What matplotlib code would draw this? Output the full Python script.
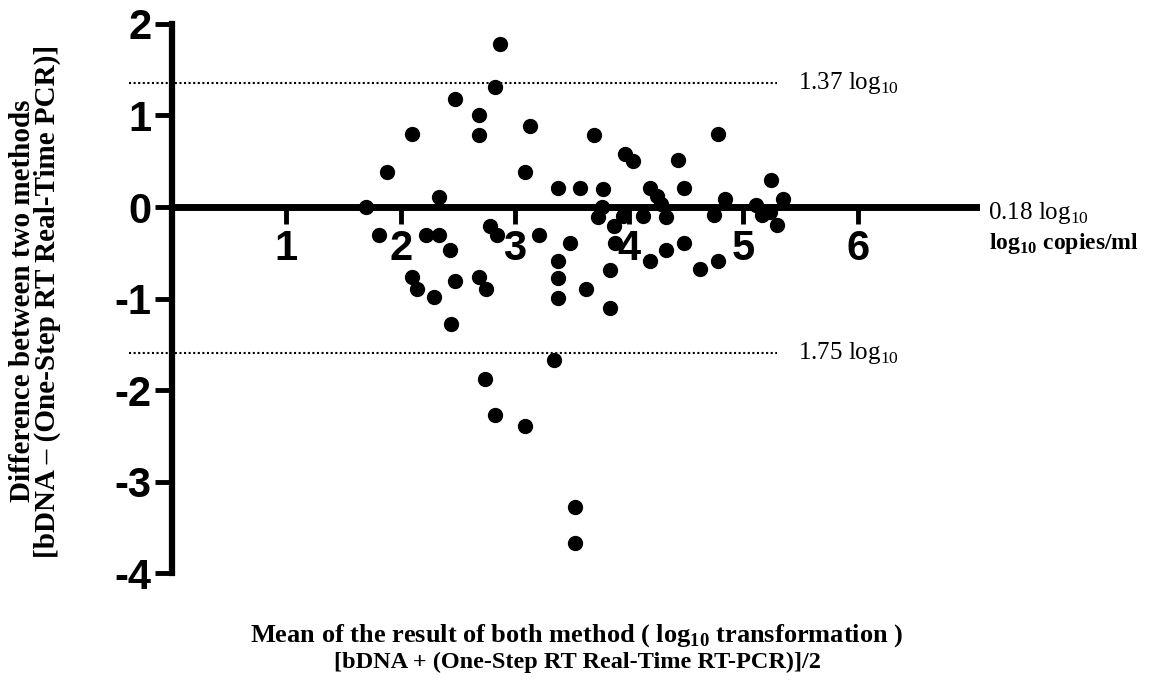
import numpy as np
import matplotlib.pyplot as plt

# Bland-Altman: bDNA vs One-Step RT Real-Time PCR
mean_log = [1.70, 1.88, 1.81, 2.10, 2.10, 2.14, 2.22, 2.34, 2.34, 2.29,
            2.43, 2.48, 2.44, 2.48, 2.69, 2.69, 2.69, 2.75, 2.78, 2.84,
            2.83, 2.87, 3.09, 3.13, 3.21, 2.74, 2.83, 3.09, 3.34, 3.53,
            3.53, 3.38, 3.57, 3.77, 3.69, 3.48, 3.38, 3.38, 3.38, 3.62,
            3.73, 3.76, 3.87, 3.88, 3.83, 3.83, 3.95, 3.96, 4.03, 4.12,
            4.18, 4.24, 4.28, 4.32, 4.18, 4.32, 4.43, 4.48, 4.48, 4.62,
            4.74, 4.78, 4.78, 4.84, 5.11, 5.16, 5.23, 5.24, 5.29, 5.35]
diff_log = [0.00, 0.38, -0.31, 0.80, -0.76, -0.90, -0.31, -0.31, 0.11, -0.98,
            -0.47, -0.81, -1.28, 1.18, 1.00, 0.79, -0.76, -0.90, -0.21, -0.31,
            1.31, 1.78, 0.38, 0.89, -0.31, -1.88, -2.27, -2.39, -1.67, -3.28,
            -3.67, 0.21, 0.21, 0.20, 0.79, -0.39, -0.59, -0.78, -0.99, -0.90,
            -0.11, 0.00, -0.21, -0.39, -0.69, -1.10, -0.10, 0.58, 0.50, -0.10,
            0.21, 0.12, 0.03, -0.11, -0.59, -0.47, 0.51, 0.21, -0.39, -0.68,
            -0.09, -0.59, 0.80, 0.09, 0.02, -0.09, -0.05, 0.30, -0.20, 0.09]

upper_limit = 1.36
lower_limit = -1.60
limit_labels = ["1.37 log$_{10}$", "1.75 log$_{10}$"]
mean_label = "0.18 log$_{10}$"
x_ticks = [1, 2, 3, 4, 5, 6]
y_ticks = [-4, -3, -2, -1, 0, 1, 2]

plt.rcParams['axes.unicode_minus'] = False
plt.rcParams['mathtext.fontset'] = 'custom'
plt.rcParams['mathtext.rm'] = 'Liberation Serif'
plt.rcParams['mathtext.bf'] = 'Liberation Serif:bold'

fig = plt.figure(figsize=(11.61, 6.81), dpi=100)
ax = fig.add_axes([0.1088, 0.1518, 0.7334, 0.8197])

ax.plot(mean_log, diff_log, 'o', color='black', markersize=10, zorder=5)

# limits of agreement
ax.plot([-0.38, 5.29], [upper_limit, upper_limit], color='black',
        lw=1.5, linestyle=(0, (1, 1.2)))
ax.plot([-0.38, 5.29], [lower_limit, lower_limit], color='black',
        lw=1.5, linestyle=(0, (1, 1.2)))

ax.set_xlim(-0.4, 7.05)
ax.set_ylim(-4.05, 2.05)

ax.spines['top'].set_visible(False)
ax.spines['right'].set_visible(False)
ax.spines['left'].set_position(('data', 0))
ax.spines['bottom'].set_position(('data', 0))
ax.spines['left'].set_bounds(-4, 2)
ax.spines['bottom'].set_bounds(0, 7.03)
ax.spines['left'].set_linewidth(4.5)
ax.spines['bottom'].set_linewidth(5)

ax.set_xticks(x_ticks)
ax.set_yticks(y_ticks)
ax.tick_params(axis='x', direction='out', length=12, width=3.5, pad=4,
               labelsize=30)
ax.tick_params(axis='y', direction='out', length=12, width=3.5, pad=3,
               labelsize=30)
for lab in ax.get_xticklabels() + ax.get_yticklabels():
    lab.set_fontfamily('Liberation Sans')
    lab.set_fontweight('bold')

# labels at the right
ax.text(5.48, upper_limit, limit_labels[0], fontsize=18,
        family='Liberation Serif', va='center', ha='left')
ax.text(5.48, lower_limit, limit_labels[1], fontsize=18,
        family='Liberation Serif', va='center', ha='left')
ax.text(7.14, -0.07, mean_label, fontsize=18,
        family='Liberation Serif', va='center', ha='left')
ax.text(7.15, -0.4, r"log$_{\mathbf{10}}$ copies/ml", fontsize=17,
        family='Liberation Serif', fontweight='bold', va='center', ha='left')

# axis titles
fig.text(0.019, 0.558, "Difference between two methods", rotation=90,
         fontsize=21, family='Liberation Serif', fontweight='bold',
         ha='center', va='center')
fig.text(0.041, 0.558, "[bDNA \u2013 (One-Step RT Real-Time PCR)]", rotation=90,
         fontsize=21, family='Liberation Serif', fontweight='bold',
         ha='center', va='center')
fig.text(0.497, 0.067,
         r"Mean of the result of both method ( log$_{\mathbf{10}}$ transformation )",
         fontsize=19, family='Liberation Serif', fontweight='bold',
         ha='center', va='center')
fig.text(0.497, 0.027, "[bDNA + (One-Step RT Real-Time RT-PCR)]/2",
         fontsize=17.5, family='Liberation Serif', fontweight='bold',
         ha='center', va='center')

fig.savefig('out.png', dpi=100)
